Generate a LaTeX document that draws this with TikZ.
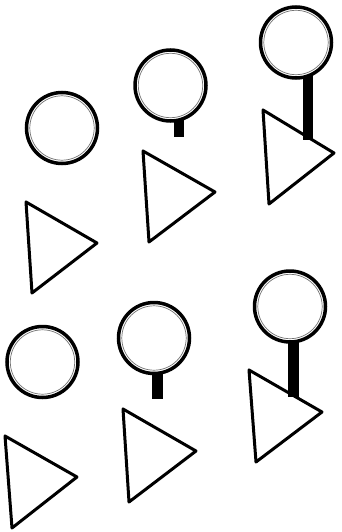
\documentclass[tikz,border=0pt]{standalone}
\usetikzlibrary{calc}

\begin{document}
\begin{tikzpicture}[
  x=1pt, y=-1pt,
  boule/.style={
    circle,
    draw,
    line width=3.5pt,
    fill=white,
    inner sep=0pt,
    minimum size=71pt
  },
  anneau/.style={draw=black!55, line width=0.7pt},
  tri/.style={draw, line width=3pt, line join=round},
  tige/.style={line width=10pt}
]
\useasboundingbox (0,0) rectangle (341,532);

% Tiges (dessous des boules)
\coordinate (t2) at (179,118);
\coordinate (t3) at (308,75);
\coordinate (t5) at (157,368);
\coordinate (t6) at (293.5,335);
\draw[tige] (t2) -- ++(0,19);
\draw[tige] (t3) -- ++(0,65);
\draw[tige, line width=11pt] (t5) -- ++(0,31);
\draw[tige, line width=11pt] (t6) -- ++(0,62);

% Rangée du haut
\node[boule] (c1) at (62,128) {};
\node[boule] (c2) at (170.5,85.5) {};
\node[boule] (c3) at (296,42.5) {};

\draw[tri] (26,202) -- (32,293) -- (97,243) -- cycle;
\draw[tri] (143,151) -- (149,242) -- (215,192) -- cycle;
\draw[tri] (263,110) -- (269,204) -- (334,153) -- cycle;

% Rangée du bas
\node[boule] (c4) at (42.5,362) {};
\node[boule] (c5) at (154,338) {};
\node[boule] (c6) at (290,306.5) {};

\draw[tri] (5,436) -- (12,528) -- (77,477) -- cycle;
\draw[tri] (123,409) -- (129,502) -- (196,451) -- cycle;
\draw[tri] (249,370) -- (256,462) -- (322,412) -- cycle;

% Anneaux intérieurs
\foreach \c in {c1,c2,c3,c4,c5,c6}
  \draw[anneau] (\c) circle (32.2);

\end{tikzpicture}
\end{document}
